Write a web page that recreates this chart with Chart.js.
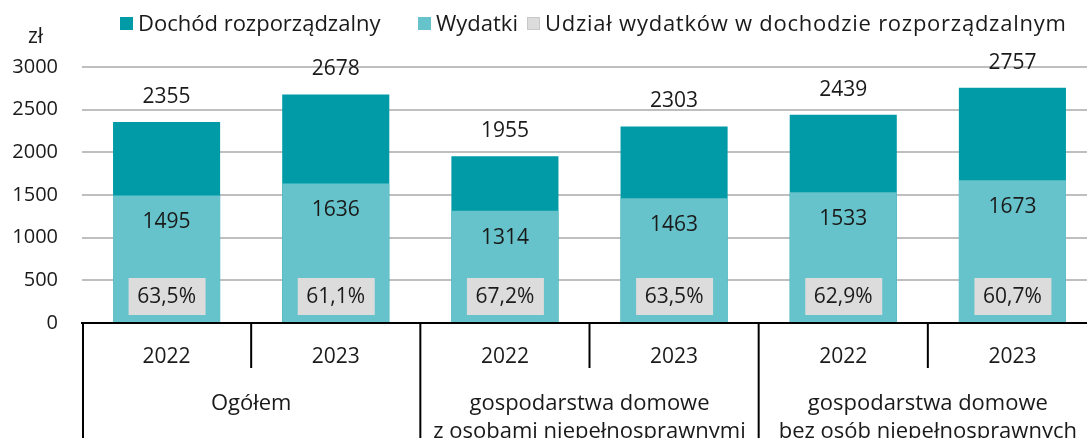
<!DOCTYPE html>
<html lang="pl">
<head>
<meta charset="utf-8">
<script src="https://cdn.jsdelivr.net/npm/chart.js@4"></script>
<style>
  html, body { margin: 0; padding: 0; overflow: hidden; background: #fff; }
  body { width: 1087px; height: 438px; position: relative; font-family: "Open Sans", sans-serif; color: #1a1a1a; }
  #wrap { position: absolute; left: 0; top: 0; width: 1097px; height: 460px; }
  .leg { position: absolute; top: 7px; font-size: 22px; line-height: 30px; white-space: nowrap; }
  .leg i { display: inline-block; width: 13px; height: 13px; margin-right: 5px; vertical-align: 1px; box-sizing: border-box; }
  #zl { position: absolute; left: 28px; top: 21px; font-size: 21px; line-height: 28px; }
</style>
</head>
<body>
<div id="wrap"><canvas id="wykres"></canvas></div>
<div class="leg" style="left:120px"><i style="background:#009ba6"></i>Dochód rozporządzalny</div>
<div class="leg" style="left:418px"><i style="background:#66c3cb"></i>Wydatki</div>
<div class="leg" style="left:527px;letter-spacing:0.75px"><i style="background:#dcdcdc;border:1px solid #c8c8c8"></i>Udział wydatków w dochodzie rozporządzalnym</div>
<div id="zl">zł</div>
<script>
const lata = ["2022", "2023", "2022", "2023", "2022", "2023"];
const grupy = [
  "Ogółem",
  ["gospodarstwa domowe", "z osobami niepełnosprawnymi"],
  ["gospodarstwa domowe", "bez osób niepełnosprawnych"]
];
const dochod = [2355, 2678, 1955, 2303, 2439, 2757];
const wydatki = [1495, 1636, 1314, 1463, 1533, 1673];
const udzial = ["63,5%", "61,1%", "67,2%", "63,5%", "62,9%", "60,7%"];

const FONT = '"Open Sans", sans-serif';

// etykiety wartości i szare ramki z udziałem
const etykiety = {
  id: "etykiety",
  afterDatasetsDraw(chart) {
    const ctx = chart.ctx;
    const mDochod = chart.getDatasetMeta(0);
    const mWyd = chart.getDatasetMeta(1);
    const y0 = chart.scales.y.getPixelForValue(0);
    ctx.save();
    ctx.font = "21px " + FONT;
    ctx.textAlign = "center";
    ctx.textBaseline = "middle";
    mDochod.data.forEach((bar, i) => {
      ctx.fillStyle = "#1a1a1a";
      ctx.fillText(dochod[i], bar.x, bar.y - 25);
    });
    mWyd.data.forEach((bar, i) => {
      ctx.fillStyle = "#1a1a1a";
      ctx.fillText(wydatki[i], bar.x, bar.y + 27);
      // ramka z udziałem
      ctx.fillStyle = "#dcdcdc";
      ctx.fillRect(bar.x - 38, y0 - 45, 77, 37);
      ctx.fillStyle = "#1a1a1a";
      ctx.fillText(udzial[i], bar.x, y0 - 26);
    });
    ctx.restore();
  },
  afterDraw(chart) {
    // linie podziału pod osią
    const ctx = chart.ctx;
    const x = chart.scales.x;
    const top = chart.chartArea.bottom;
    const n = lata.length;
    ctx.save();
    ctx.strokeStyle = "#000";
    ctx.lineWidth = 2;
    for (let i = 0; i <= n; i++) {
      let px;
      if (i === 0) px = x.left + 1;
      else if (i === n) px = x.right;
      else px = (x.getPixelForValue(i - 1) + x.getPixelForValue(i)) / 2;
      const dol = i % 2 === 0 ? chart.height : top + 45;
      ctx.beginPath();
      ctx.moveTo(px, top);
      ctx.lineTo(px, dol);
      ctx.stroke();
    }
    ctx.restore();
  }
};

new Chart(document.getElementById("wykres"), {
  type: "bar",
  data: {
    labels: lata,
    datasets: [
      {
        label: "Dochód rozporządzalny",
        data: dochod,
        backgroundColor: "#009ba6",
        order: 2,
        grouped: false
      },
      {
        label: "Wydatki",
        data: wydatki,
        backgroundColor: "#66c3cb",
        order: 1,
        grouped: false
      }
    ]
  },
  options: {
    responsive: true,
    maintainAspectRatio: false,
    animation: false,
    layout: { padding: { top: 67, right: 0, left: 0, bottom: 0 } },
    datasets: { bar: { barPercentage: 0.633, categoryPercentage: 1 } },
    plugins: {
      legend: { display: false },
      tooltip: { enabled: false }
    },
    scales: {
      x: {
        weight: 0,
        grid: { display: false },
        border: { display: true, color: "#000", width: 2 },
        ticks: { color: "#1a1a1a", font: { family: FONT, size: 21 }, padding: 13, maxRotation: 0 },
        afterFit(s) { s.height = 45; }
      },
      x2: {
        type: "category",
        labels: grupy,
        position: "bottom",
        offset: true,
        weight: 1,
        grid: { display: false },
        border: { display: false },
        ticks: { color: "#1a1a1a", font: { family: FONT, size: 22, lineHeight: 1.27 }, padding: 14, maxRotation: 0, autoSkip: false },
        afterFit(s) { s.height = 92; }
      },
      y: {
        min: 0,
        max: 3000,
        ticks: {
          stepSize: 500,
          color: "#1a1a1a",
          font: { family: FONT, size: 20 },
          padding: 24,
          callback: v => String(v)
        },
        grid: { color: "#bfbfbf", lineWidth: 2, drawTicks: false },
        border: { display: false },
        afterFit(s) { s.width = 82; }
      }
    }
  },
  plugins: [etykiety]
});
</script>
</body>
</html>
